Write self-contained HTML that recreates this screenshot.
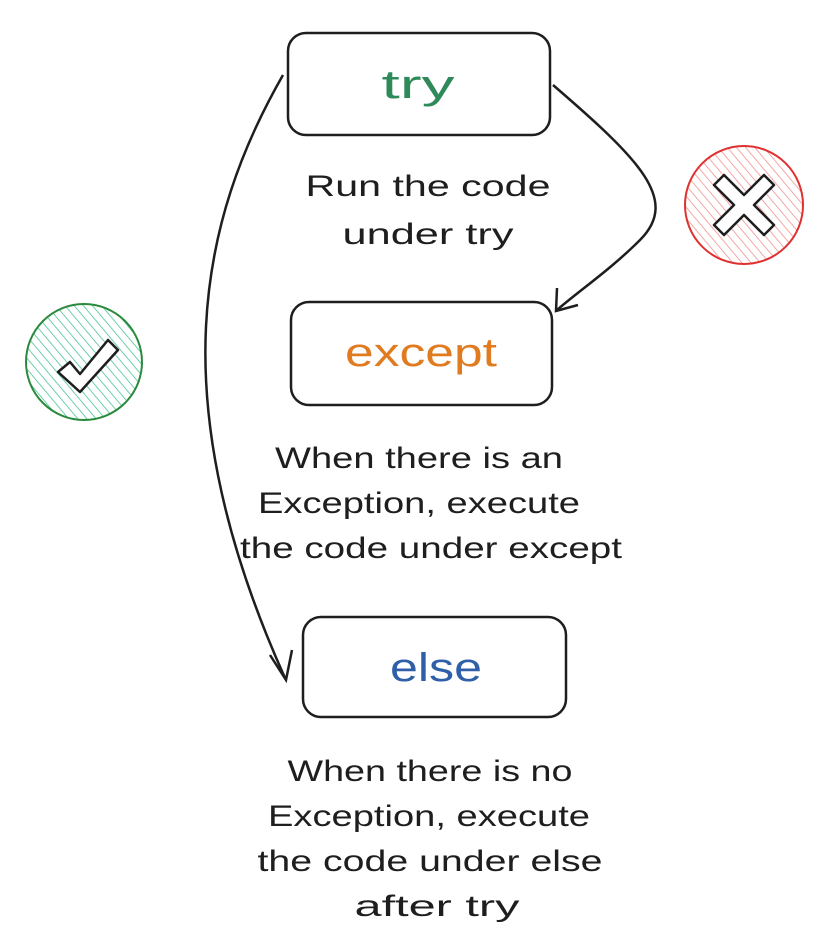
<!DOCTYPE html>
<html><head><meta charset="utf-8"><style>
html,body{margin:0;padding:0;background:#fff;width:824px;height:946px;overflow:hidden}
svg{display:block}
text{font-family:"Liberation Sans",sans-serif}
</style></head><body>
<svg width="824" height="946" viewBox="0 0 824 946" xmlns="http://www.w3.org/2000/svg">
<defs>
<pattern id="hr" width="7" height="7" patternUnits="userSpaceOnUse" patternTransform="rotate(-40)">
<line x1="0" y1="0" x2="0" y2="7" stroke="#f08c8c" stroke-width="1.5"/></pattern>
<pattern id="hg" width="7" height="7" patternUnits="userSpaceOnUse" patternTransform="rotate(-40)">
<line x1="0" y1="0" x2="0" y2="7" stroke="#40c090" stroke-width="1.5"/></pattern>
</defs>
<g fill="none" stroke="#1e1e1e" stroke-width="2.5">
<rect x="288" y="33" width="262" height="102" rx="18"/>
<rect x="291" y="302" width="261" height="103" rx="18"/>
<rect x="303" y="617" width="263" height="100" rx="18"/>
<path d="M283 75 C200 220 160 400 285 678"/>
<path d="M270 655 L286 680 L292 650"/>
<path d="M553 85 C640 160 680 200 640 240 C610 270 580 290 557 310"/>
<path d="M557 288 L556 311 L578 305"/>
</g>
<circle cx="744" cy="205" r="59" fill="url(#hr)" stroke="#e03131" stroke-width="2"/>
<path d="M714 185 L724 175 L744 195 L764 175 L774 185 L754 205 L774 225 L764 235 L744 215 L724 235 L714 225 L734 205 Z" fill="#fff" stroke="#1e1e1e" stroke-width="2.5" stroke-linejoin="round"/>
<circle cx="84" cy="362" r="58" fill="url(#hg)" stroke="#2b8a3e" stroke-width="2"/>
<path d="M58 372 L70 362 L80 374 L108 340 L118 350 L80 392 Z" fill="#fff" stroke="#1e1e1e" stroke-width="2.5" stroke-linejoin="round"/>
<g text-anchor="middle" font-size="40" lengthAdjust="spacingAndGlyphs">
<text x="418" y="98" fill="#2f8a5a" textLength="73" lengthAdjust="spacingAndGlyphs">try</text>
<text x="421" y="366" fill="#e07b20" textLength="152" lengthAdjust="spacingAndGlyphs">except</text>
<text x="436" y="681" fill="#2f5fa8" textLength="92" lengthAdjust="spacingAndGlyphs">else</text>
</g>
<g text-anchor="middle" font-size="30" fill="#1e1e1e">
<text x="428" y="196" textLength="245" lengthAdjust="spacingAndGlyphs">Run the code</text>
<text x="428" y="244" textLength="171" lengthAdjust="spacingAndGlyphs">under try</text>
<text x="419" y="468" textLength="288" lengthAdjust="spacingAndGlyphs">When there is an</text>
<text x="419" y="513" textLength="322" lengthAdjust="spacingAndGlyphs">Exception, execute</text>
<text x="431" y="558" textLength="382" lengthAdjust="spacingAndGlyphs">the code under except</text>
<text x="430" y="781" textLength="285" lengthAdjust="spacingAndGlyphs">When there is no</text>
<text x="429" y="826" textLength="322" lengthAdjust="spacingAndGlyphs">Exception, execute</text>
<text x="430" y="871" textLength="345" lengthAdjust="spacingAndGlyphs">the code under else</text>
<text x="437" y="916" textLength="165" lengthAdjust="spacingAndGlyphs">after try</text>
</g>
</svg>
</body></html>
